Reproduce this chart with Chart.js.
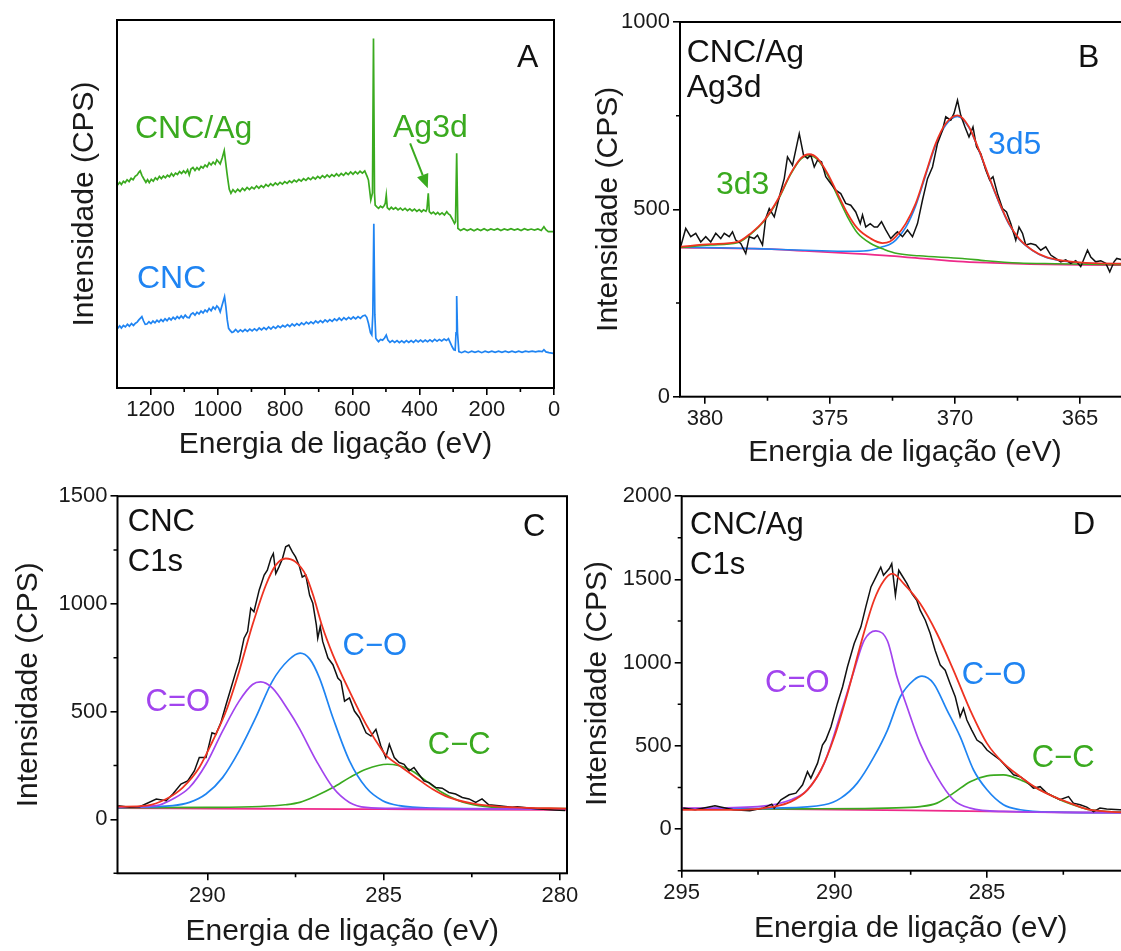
<!DOCTYPE html>
<html><head><meta charset="utf-8">
<script src="https://cdn.jsdelivr.net/npm/chart.js@4.4.1/dist/chart.umd.min.js"></script>
<style>
html,body{margin:0;padding:0;width:1121px;height:951px;overflow:hidden;background:#fff;}
.panel{position:absolute;}
.panel canvas{display:block;}
</style></head><body>
<div class="panel" style="left:0px;top:0px;width:575px;height:475px"><canvas id="cA" width="575" height="475"></canvas></div>
<div class="panel" style="left:585px;top:0px;width:560px;height:475px"><canvas id="cB" width="560" height="475"></canvas></div>
<div class="panel" style="left:0px;top:480px;width:590px;height:471px"><canvas id="cC" width="590" height="471"></canvas></div>
<div class="panel" style="left:575px;top:480px;width:585px;height:471px"><canvas id="cD" width="585" height="471"></canvas></div>
<script>
// ---------------- DATA ----------------
// Panel A: survey spectra [binding energy eV, intensity (arb.)]
const surveyCNCAg = [[1298,55.2],[1292,55.9],[1287,55.3],[1281,56.2],[1276,55.8],[1270,56.6],[1264,56.1],[1258,57.0],[1252,56.6],[1246,57.5],[1240,57.9],[1235,58.6],[1231,59.0],[1226,57.8],[1220,56.8],[1214,55.9],[1209,56.6],[1204,55.8],[1198,56.7],[1192,56.2],[1186,57.1],[1180,56.6],[1174,57.5],[1168,56.9],[1162,57.6],[1156,57.1],[1150,57.8],[1144,57.4],[1138,58.3],[1132,57.6],[1126,58.4],[1120,58.0],[1114,58.8],[1108,58.3],[1102,59.0],[1096,58.4],[1090,59.3],[1085,57.9],[1080,59.5],[1074,59.9],[1068,59.1],[1062,59.9],[1056,59.3],[1050,60.2],[1044,59.8],[1038,60.6],[1032,60.1],[1026,61.2],[1020,60.6],[1014,61.4],[1008,60.8],[1003,62.0],[998,61.5],[993,60.9],[987,62.5],[981,64.5],[977,61.5],[973,58.5],[970,56.5],[966,54.0],[961,52.9],[955,53.9],[948,53.2],[941,54.0],[934,53.4],[927,54.3],[920,53.7],[913,54.5],[906,53.9],[899,54.6],[892,54.1],[885,54.9],[878,54.3],[871,55.0],[864,54.5],[857,55.3],[850,54.8],[843,55.5],[836,55.0],[829,55.7],[822,55.2],[815,55.9],[808,55.4],[801,56.1],[794,55.6],[787,56.3],[780,55.8],[773,56.5],[766,56.0],[759,56.7],[752,56.2],[745,56.9],[738,56.4],[731,57.1],[724,56.6],[717,57.3],[710,56.8],[703,57.5],[696,57.0],[689,57.7],[682,57.2],[675,57.9],[668,57.3],[661,58.0],[654,57.5],[647,58.2],[640,57.6],[633,58.3],[626,57.8],[619,58.5],[612,58.0],[605,58.7],[598,58.1],[591,58.8],[584,58.2],[577,58.9],[570,58.4],[563,59.0],[556,57.5],[552,56.5],[545,51.1],[540,53],[537,95],[534,53],[532,49.7],[527,49.2],[522,48.8],[516,49.4],[510,49.0],[505,49.6],[502,50.2],[499,52.4],[496,49.0],[490,48.5],[484,49.1],[478,48.6],[471,49.0],[464,48.4],[457,48.9],[450,48.3],[443,48.8],[436,48.2],[429,48.7],[422,48.1],[415,48.6],[408,48.0],[401,48.5],[394,47.9],[388,48.4],[381,48.0],[378,48.6],[374,52.9],[371,47.9],[365,47.4],[359,47.8],[352,47.2],[346,47.7],[340,47.1],[333,47.6],[326,47.0],[319,47.9],[314,47.3],[309,47.0],[303,46.0],[296,44.7],[293,45.2],[289.5,63.8],[286,43.4],[278,42.8],[268,43.3],[258,42.8],[248,43.2],[238,42.7],[228,43.2],[218,42.8],[208,43.3],[198,42.8],[188,43.2],[178,42.9],[168,43.3],[158,42.8],[148,43.2],[138,42.9],[128,43.3],[118,42.9],[108,43.2],[98,42.8],[88,43.3],[78,42.9],[68,43.2],[58,42.9],[48,43.2],[38,42.8],[30,43.8],[24,43.0],[17,42.5],[2,42.5]];
const surveyCNC = [[1298,16.2],[1292,16.9],[1287,16.3],[1281,17.0],[1275,16.6],[1269,17.3],[1263,16.8],[1257,17.5],[1251,17.0],[1245,17.6],[1240,17.9],[1235,18.5],[1230,19.0],[1226,19.4],[1221,18.2],[1216,17.3],[1211,17.4],[1205,18.0],[1199,17.5],[1193,18.2],[1187,17.7],[1181,18.4],[1175,17.9],[1169,18.6],[1163,18.1],[1157,18.8],[1151,18.3],[1145,19.0],[1139,18.5],[1133,19.2],[1127,18.7],[1121,19.4],[1115,18.9],[1109,19.6],[1103,19.0],[1097,19.8],[1091,19.2],[1085,19.1],[1080,20.0],[1074,20.4],[1068,19.8],[1062,20.6],[1056,20.1],[1050,20.9],[1044,20.4],[1038,21.2],[1032,20.7],[1026,21.6],[1020,21.0],[1014,22.0],[1008,21.4],[1003,22.3],[998,21.8],[993,20.7],[987,22.6],[980,24.8],[976,22.0],[972,18.5],[968,16.2],[963,15.6],[958,15.1],[953,15.3],[947,15.9],[940,15.2],[933,15.8],[926,15.3],[919,15.9],[912,15.4],[905,16.0],[898,15.5],[891,16.1],[884,15.6],[877,16.3],[870,15.8],[863,16.4],[856,15.9],[849,16.6],[842,16.0],[835,16.7],[828,16.2],[821,16.9],[814,16.4],[807,17.0],[800,16.6],[793,17.2],[786,16.7],[779,17.4],[772,16.9],[765,17.5],[758,17.0],[751,17.7],[744,17.2],[737,17.9],[730,17.4],[723,18.0],[716,17.5],[709,18.2],[702,17.7],[695,18.3],[688,17.8],[681,18.5],[674,18.0],[667,18.6],[660,18.1],[653,18.8],[646,18.3],[639,19.0],[632,18.4],[625,19.1],[618,18.6],[611,19.2],[604,18.7],[597,19.3],[590,18.8],[583,19.4],[576,18.9],[569,19.6],[562,19.8],[557,19.2],[552,17.6],[546,15.0],[542,14.4],[539,20],[536,44.6],[533,20],[530,13.5],[526,13.0],[522,12.6],[516,13.2],[510,13.0],[504,13.6],[499,14.4],[494,13.0],[488,12.4],[481,12.9],[474,12.4],[467,12.9],[460,12.3],[453,12.8],[446,12.3],[439,12.9],[432,12.4],[425,12.9],[418,12.4],[411,13.0],[404,12.5],[397,13.0],[390,12.5],[383,13.0],[376,12.6],[369,13.1],[362,12.6],[355,13.2],[348,12.7],[341,13.2],[334,12.8],[327,13.3],[320,12.9],[314,13.4],[309,12.4],[303,11.2],[298,10.4],[294,10.3],[291.5,15],[289.5,25.0],[287,15],[283,9.9],[275,9.6],[265,10.0],[255,9.6],[245,10.0],[235,9.7],[225,10.0],[215,9.6],[205,10.0],[195,9.7],[185,10.0],[175,9.7],[165,10.0],[155,9.7],[145,10.0],[135,9.7],[125,10.0],[115,9.7],[105,10.0],[95,9.7],[85,10.0],[75,9.8],[65,10.0],[55,9.8],[45,10.0],[35,9.9],[30,10.4],[24,9.8],[15,9.6],[2,9.4]];
const arrowAg3d = [[428,66.5],[375.4,54.3]];
const ticksA_x = [1200,1000,800,600,400,200,0];
const minorA_x = [1100,900,700,500,300,100];

// Panel B: Ag3d region, CNC/Ag
const ag3dRaw = [[381.03,387],[380.77,449],[380.57,427],[380.37,436],[380.17,413],[379.97,427],[379.77,413],[379.57,436],[379.37,422],[379.23,436],[379.03,427],[378.9,440],[378.77,418],[378.57,409],[378.37,382],[378.23,427],[378.03,422],[377.9,431],[377.7,405],[377.57,476],[377.43,502],[377.23,480],[377.03,533],[376.83,582],[376.7,640],[376.5,618],[376.23,702],[376.06,645],[375.9,636],[375.77,645],[375.63,613],[375.5,631],[375.34,627],[375.17,587],[374.97,569],[374.77,551],[374.57,542],[374.37,516],[374.17,511],[373.97,493],[373.79,462],[373.7,485],[373.57,453],[373.39,462],[373.23,453],[373.1,453],[372.94,467],[372.77,445],[372.57,422],[372.37,436],[372.3,440],[372.1,427],[371.9,445],[371.7,427],[371.5,462],[371.3,525],[371.1,582],[370.9,613],[370.7,676],[370.5,711],[370.37,747],[370.17,738],[370.04,756],[369.9,791],[369.77,751],[369.6,720],[369.44,693],[369.28,720],[369.14,667],[368.97,649],[368.77,605],[368.61,578],[368.48,587],[368.3,542],[368.1,502],[367.94,493],[367.77,462],[367.57,418],[367.44,453],[367.3,436],[367.17,405],[366.97,409],[366.77,405],[366.57,391],[366.37,400],[366.17,378],[365.97,369],[365.77,360],[365.57,365],[365.37,356],[365.17,363],[364.97,347],[364.7,391],[364.57,373],[364.37,360],[364.17,363],[363.97,356],[363.81,333],[363.64,360],[363.53,369],[363.0,360]];
const ag3dFit = [[381,400],[379.77,407],[378.7,413],[378.17,436],[377.63,471],[377.1,525],[376.57,596],[376.17,636],[375.83,647],[375.5,636],[375.1,596],[374.7,542],[374.3,489],[373.9,449],[373.37,422],[372.9,410],[372.6,414],[372.37,427],[371.97,462],[371.57,516],[371.17,596],[370.77,676],[370.37,729],[369.9,751],[369.44,720],[369.04,658],[368.64,587],[368.24,520],[367.84,462],[367.44,422],[366.9,391],[366.37,373],[365.7,363],[364.77,357],[363.0,355]];
const ag3d3 = [[381,398],[379.77,405],[378.7,411],[378.17,434],[377.63,469],[377.1,522],[376.57,594],[376.17,634],[375.83,644],[375.5,633],[375.1,592],[374.7,536],[374.3,480],[373.9,437],[373.37,409],[372.83,393],[372.3,382],[371.44,376],[369.7,369],[368.77,363],[367.44,357],[366,355],[363,352]];
const ag3d5 = [[381,399],[379,397],[377,393],[375,389],[374,388],[373.37,391],[372.9,400],[372.6,407],[372.37,418],[371.97,452],[371.57,510],[371.17,592],[370.77,672],[370.37,725],[369.9,748],[369.44,718],[369.04,656],[368.64,585],[368.24,518],[367.84,460],[367.44,420],[366.9,390],[366.37,372],[365.7,362],[364.77,356],[363,354]];
const ag3dBase = [[381,398],[378,395],[376,389],[374,382],[372.6,376],[371,367],[369.9,361],[368.5,357],[367,354],[365,352],[363,351]];
const ticksB_x = [380,375,370,365];
const minorB_x = [377.5,372.5,367.5];
const ticksB_y = [0,500,1000];
const minorB_y = [250,750];

// Panel C: C1s, CNC
const c1sCNCRaw = [[292.53,64],[292.21,56],[291.92,59],[291.45,95],[291.17,87],[290.98,118],[290.75,164],[290.56,179],[290.37,225],[290.23,287],[290.04,287],[289.87,402],[289.76,395],[289.62,448],[289.47,533],[289.33,610],[289.19,687],[289.1,733],[288.96,841],[288.86,872],[288.77,980],[288.68,964],[288.53,1065],[288.39,1134],[288.3,1157],[288.2,1211],[288.13,1234],[288.06,1141],[287.97,1172],[287.87,1211],[287.78,1265],[287.69,1273],[287.59,1242],[287.5,1218],[287.4,1180],[287.31,1125],[287.21,1134],[287.1,1040],[287.01,1003],[286.91,903],[286.87,841],[286.8,895],[286.73,826],[286.58,749],[286.44,718],[286.3,656],[286.21,641],[286.11,549],[285.97,564],[285.83,503],[285.69,472],[285.5,402],[285.36,387],[285.22,418],[285.08,341],[284.94,287],[284.84,349],[284.7,287],[284.56,264],[284.42,256],[284.28,225],[284.14,241],[284.04,218],[283.86,179],[283.71,171],[283.52,148],[283.34,145],[283.15,125],[282.96,118],[282.77,102],[282.58,95],[282.39,79],[282.21,95],[282.02,68],[281.73,64],[281.36,56],[281.21,59],[280.69,49],[280.16,44],[279.85,41]];
const c1sCNCFit = [[292.53,59],[291.73,64],[291.17,95],[290.7,148],[290.23,241],[289.85,364],[289.47,503],[289.1,687],[288.72,903],[288.34,1088],[288.06,1180],[287.78,1211],[287.5,1195],[287.21,1134],[287.0,1040],[286.75,900],[286.44,764],[285.97,595],[285.5,441],[285.03,318],[284.89,290],[284.56,250],[284.09,195],[283.62,141],[283.15,102],[282.49,74],[281.73,59],[281.31,56],[279.8,50]];
const c1sCNC_CdO = [[292.53,57],[291.45,64],[290.98,95],[290.51,148],[290.04,256],[289.57,410],[289.1,549],[288.72,626],[288.49,638],[288.16,610],[287.69,503],[287.4,425],[286.91,272],[286.44,148],[285.97,79],[285.5,56],[284.56,51],[282,49],[279.8,48]];
const c1sCNC_CO = [[292.53,55],[290.98,64],[290.51,79],[290.04,118],[289.57,194],[289.1,318],[288.63,472],[288.16,641],[287.69,741],[287.37,772],[287.1,745],[286.82,656],[286.44,472],[285.97,272],[285.5,148],[285.03,87],[284.56,64],[283.62,53],[279.8,49]];
const c1sCNC_CC = [[292.53,55],[290,56],[288.5,60],[287.8,68],[287.38,79],[286.91,110],[286.44,148],[285.97,194],[285.5,233],[284.89,256],[284.28,233],[283.8,179],[283.34,125],[282.87,87],[282.3,64],[281.36,53],[279.8,50]];
const c1sCNCBase = [[292.55,52],[290,50.5],[287.5,49],[285,47.5],[282.5,46],[279.8,44]];
const ticksC_x = [290,285,280];
const minorC_x = [287.5,282.5];
const ticksC_y = [0,500,1000,1500];
const minorC_y = [-250,250,750,1250];

// Panel D: C1s, CNC/Ag
const c1sAgRaw = [[294.95,126],[294.56,116],[293.91,140],[293.31,116],[292.77,110],[292.33,126],[292.05,150],[291.97,126],[291.75,176],[291.48,206],[291.26,216],[291.04,266],[290.88,345],[290.77,306],[290.55,396],[290.39,505],[290.28,535],[290.11,615],[289.9,755],[289.73,855],[289.57,975],[289.35,1115],[289.13,1215],[288.97,1335],[288.8,1455],[288.64,1514],[288.48,1574],[288.39,1525],[288.2,1565],[288.12,1595],[288.0,1405],[287.89,1555],[287.79,1525],[287.62,1475],[287.46,1415],[287.3,1375],[287.19,1315],[287.02,1255],[286.86,1175],[286.7,1075],[286.53,985],[286.37,955],[286.21,875],[286.04,795],[285.88,675],[285.77,725],[285.66,655],[285.5,595],[285.33,535],[285.17,515],[285.0,475],[284.79,445],[284.57,415],[284.35,372],[284.13,326],[283.91,315],[283.7,285],[283.48,246],[283.26,255],[283.04,216],[282.82,195],[282.61,176],[282.33,195],[282.17,156],[281.95,146],[281.73,132],[281.51,105],[281.3,126],[281.08,120],[280.5,115],[280,112]];
const c1sAgFit = [[295,116],[293.06,116],[291.97,135],[291.42,165],[290.88,236],[290.44,355],[290.0,555],[289.57,815],[289.13,1115],[288.7,1375],[288.37,1495],[288.1,1535],[287.73,1475],[287.19,1355],[286.64,1175],[286.1,955],[285.55,715],[285.0,515],[284.46,396],[283.91,315],[283.37,246],[282.82,195],[282.28,156],[281.73,120],[281.04,105],[280,100]];
const c1sAg_CdO = [[295,125],[292.51,135],[291.42,176],[290.88,236],[290.33,396],[289.79,695],[289.35,955],[289.02,1135],[288.64,1191],[288.26,1130],[287.95,915],[287.62,735],[287.19,515],[286.64,315],[286.1,176],[285.55,126],[284.46,106],[280,98]];
const c1sAg_CO = [[295,120],[291.97,126],[290.33,146],[289.79,186],[289.25,276],[288.7,435],[288.26,595],[287.84,795],[287.4,895],[287.13,919],[286.75,875],[286.31,715],[285.88,555],[285.44,355],[285.0,236],[284.46,146],[283.91,116],[282.82,102],[280,98]];
const c1sAg_CC = [[295,120],[291,122],[289,123],[288.28,126],[287.19,135],[286.64,156],[286.1,216],[285.55,285],[285.0,320],[284.46,326],[283.91,296],[283.37,246],[282.82,195],[282.28,152],[281.73,120],[281.04,105],[280,100]];
const c1sAgBase = [[295,125],[292.5,121],[290,117],[287.5,112],[285,106],[282.5,101],[280,97]];
const ticksD_x = [295,290,285,280];
const minorD_x = [292.5,287.5,282.5];
const ticksD_y = [0,500,1000,1500,2000];
const minorD_y = [-250,250,750,1250,1750];

// ---------------- STYLE ----------------
const FONT = "'Liberation Sans', Arial, Helvetica, sans-serif";
const GREEN = '#3aaa1f', BLUE = '#1f84f2', PURPLE = '#a244ee', RED = '#ee3322', PINK = '#ee2a8a', BLACK = '#111111';
const TICK_FONT = {family: FONT, size: 22};
const TITLE_FONT = {family: FONT, size: 30};

const toPts = arr => arr.map(p => ({x: p[0], y: p[1]}));
function line(data, color, width, smooth) {
  return {data: toPts(data), borderColor: color, borderWidth: width, pointRadius: 0, showLine: true,
          fill: false, tension: 0, cubicInterpolationMode: smooth ? 'monotone' : 'default'};
}

const framePlugin = {
  id: 'frame',
  afterDatasetsDraw(chart, args, opts) {
    const {ctx, chartArea: a, scales} = chart;
    ctx.save();
    ctx.strokeStyle = '#000';
    ctx.lineWidth = 1.6;
    ctx.beginPath();
    (opts.xMinor || []).forEach(v => { const p = scales.x.getPixelForValue(v); ctx.moveTo(p, a.bottom); ctx.lineTo(p, a.bottom + 4); });
    (opts.yMinor || []).forEach(v => { const p = scales.y.getPixelForValue(v); ctx.moveTo(a.left, p); ctx.lineTo(a.left - 4, p); });
    ctx.stroke();
    ctx.lineWidth = 2;
    ctx.strokeRect(a.left, a.top, a.right - a.left, a.bottom - a.top);
    ctx.restore();
  }
};
const notesPlugin = {
  id: 'notes',
  afterDatasetsDraw(chart, args, opts) {
    const {ctx, chartArea: a, scales} = chart;
    ctx.save();
    ctx.textBaseline = 'alphabetic';
    ctx.textAlign = 'left';
    (opts.items || []).forEach(t => {
      ctx.font = (t.size || opts.size || 31) + 'px ' + FONT;
      ctx.fillStyle = t.color;
      ctx.fillText(t.text, a.left + t.dx, a.top + t.dy);
    });
    if (opts.arrow) {
      const [p0, p1] = opts.arrow.pts;
      const x0 = scales.x.getPixelForValue(p0[0]), y0 = scales.y.getPixelForValue(p0[1]);
      const x1 = scales.x.getPixelForValue(p1[0]), y1 = scales.y.getPixelForValue(p1[1]);
      const ang = Math.atan2(y1 - y0, x1 - x0), L = 14, W = 6;
      const bx = x1 - L * Math.cos(ang), by = y1 - L * Math.sin(ang);
      ctx.strokeStyle = opts.arrow.color; ctx.fillStyle = opts.arrow.color; ctx.lineWidth = 2;
      ctx.beginPath(); ctx.moveTo(x0, y0); ctx.lineTo(bx, by); ctx.stroke();
      ctx.beginPath(); ctx.moveTo(x1, y1);
      ctx.lineTo(bx + W * Math.sin(ang), by - W * Math.cos(ang));
      ctx.lineTo(bx - W * Math.sin(ang), by + W * Math.cos(ang));
      ctx.closePath(); ctx.fill();
    }
    ctx.restore();
  }
};

function xScale(min, max, ticks, axisH, titlePadBottom) {
  return {
    type: 'linear', reverse: true, min, max,
    afterBuildTicks: s => { s.ticks = ticks.map(v => ({value: v})); },
    afterFit: s => { s.height = axisH; },
    ticks: {font: TICK_FONT, color: '#1a1a1a', padding: 2, maxRotation: 0, autoSkip: false, callback: v => String(v)},
    grid: {display: true, drawOnChartArea: false, drawTicks: true, tickLength: 7, color: '#000', tickColor: '#000', lineWidth: 1.6},
    border: {display: false},
    title: {display: true, text: 'Energia de ligação (eV)', font: TITLE_FONT, color: '#1a1a1a', padding: {top: 0, bottom: titlePadBottom}}
  };
}
function yScale(min, max, ticks, axisW, titlePadTop, showTicks) {
  return {
    type: 'linear', min, max,
    afterBuildTicks: s => { s.ticks = ticks.map(v => ({value: v})); },
    afterFit: s => { s.width = axisW; },
    ticks: {display: showTicks, font: TICK_FONT, color: '#1a1a1a', padding: 3, autoSkip: false, callback: v => String(v)},
    grid: {display: true, drawOnChartArea: false, drawTicks: showTicks, tickLength: 7, color: '#000', tickColor: '#000', lineWidth: 1.6},
    border: {display: false},
    title: {display: true, text: 'Intensidade (CPS)', font: TITLE_FONT, color: '#1a1a1a', padding: {top: titlePadTop, bottom: 0}}
  };
}
function baseOptions(pad, scales, frame, notes) {
  return {
    responsive: false, animation: false, devicePixelRatio: 1,
    layout: {padding: pad},
    scales,
    plugins: {legend: {display: false}, tooltip: {enabled: false}, frame, notes}
  };
}

// Panel A
new Chart(document.getElementById('cA'), {
  type: 'scatter',
  data: {datasets: [
    line(surveyCNCAg, GREEN, 1.7, false),
    line(surveyCNC, BLUE, 1.7, false)
  ]},
  options: baseOptions({top: 20, right: 21, left: 0, bottom: 0}, {
    x: xScale(0, 1300, ticksA_x, 87, 12),
    y: yScale(0, 100, [], 117, 66.6, false)
  }, {xMinor: minorA_x}, {
    size: 32,
    items: [
      {text: 'A', color: BLACK, dx: 400, dy: 47},
      {text: 'CNC/Ag', color: GREEN, dx: 18, dy: 118},
      {text: 'Ag3d', color: GREEN, dx: 276, dy: 117},
      {text: 'CNC', color: BLUE, dx: 20, dy: 268}
    ],
    arrow: {pts: arrowAg3d, color: GREEN}
  }),
  plugins: [framePlugin, notesPlugin]
});

// Panel B
new Chart(document.getElementById('cB'), {
  type: 'scatter',
  data: {datasets: [
    line(ag3dFit, RED, 1.8, true),
    line(ag3dRaw, BLACK, 1.5, false),
    line(ag3d3, GREEN, 1.6, true),
    line(ag3d5, BLUE, 1.6, true),
    line(ag3dBase, PINK, 1.8, true)
  ]},
  options: baseOptions({top: 22, right: 15, left: 0, bottom: 0}, {
    x: xScale(363, 381, ticksB_x, 78.3, 4),
    y: yScale(0, 1000, ticksB_y, 95, 5.5, true)
  }, {xMinor: minorB_x, yMinor: minorB_y}, {
    size: 32,
    items: [
      {text: 'CNC/Ag', color: BLACK, dx: 6.7, dy: 39.7},
      {text: 'Ag3d', color: BLACK, dx: 6.7, dy: 75},
      {text: 'B', color: BLACK, dx: 398, dy: 44.7},
      {text: '3d3', color: GREEN, dx: 36, dy: 172.3},
      {text: '3d5', color: BLUE, dx: 308, dy: 132}
    ]
  }),
  plugins: [framePlugin, notesPlugin]
});

// Panel C
new Chart(document.getElementById('cC'), {
  type: 'scatter',
  data: {datasets: [
    line(c1sCNCFit, RED, 1.8, true),
    line(c1sCNCRaw, BLACK, 1.5, false),
    line(c1sCNC_CdO, PURPLE, 1.7, true),
    line(c1sCNC_CO, BLUE, 1.7, true),
    line(c1sCNC_CC, GREEN, 1.7, true),
    line(c1sCNCBase, PINK, 1.8, true)
  ]},
  options: baseOptions({top: 14, right: 23, left: 0, bottom: 0}, {
    x: xScale(279.8, 292.55, ticksC_x, 77.7, 1.3),
    y: yScale(-250, 1500, ticksC_y, 117.5, 10.3, true)
  }, {xMinor: minorC_x, yMinor: minorC_y}, {
    size: 31,
    items: [
      {text: 'CNC', color: BLACK, dx: 10.3, dy: 34.3},
      {text: 'C1s', color: BLACK, dx: 10.3, dy: 74.3},
      {text: 'C', color: BLACK, dx: 405.5, dy: 39.3},
      {text: 'C=O', color: PURPLE, dx: 28, dy: 214.3},
      {text: 'C\u2212O', color: BLUE, dx: 225, dy: 158.3},
      {text: 'C\u2212C', color: GREEN, dx: 310.3, dy: 257.7}
    ]
  }),
  plugins: [framePlugin, notesPlugin]
});

// Panel D
new Chart(document.getElementById('cD'), {
  type: 'scatter',
  data: {datasets: [
    line(c1sAgFit, RED, 1.8, true),
    line(c1sAgRaw, BLACK, 1.5, false),
    line(c1sAg_CdO, PURPLE, 1.7, true),
    line(c1sAg_CO, BLUE, 1.7, true),
    line(c1sAg_CC, GREEN, 1.7, true),
    line(c1sAgBase, PINK, 1.8, true)
  ]},
  options: baseOptions({top: 15.7, right: 20, left: 0, bottom: 0}, {
    x: xScale(280, 295, ticksD_x, 80.3, 4),
    y: yScale(-250, 2000, ticksD_y, 106.7, 5, true)
  }, {xMinor: minorD_x, yMinor: minorD_y}, {
    size: 31,
    items: [
      {text: 'CNC/Ag', color: BLACK, dx: 8.3, dy: 37.6},
      {text: 'C1s', color: BLACK, dx: 8.3, dy: 77.6},
      {text: 'D', color: BLACK, dx: 391, dy: 37.6},
      {text: 'C=O', color: PURPLE, dx: 83.3, dy: 196},
      {text: 'C\u2212O', color: BLUE, dx: 280, dy: 187.6},
      {text: 'C\u2212C', color: GREEN, dx: 350, dy: 271}
    ]
  }),
  plugins: [framePlugin, notesPlugin]
});
</script>
</body></html>
